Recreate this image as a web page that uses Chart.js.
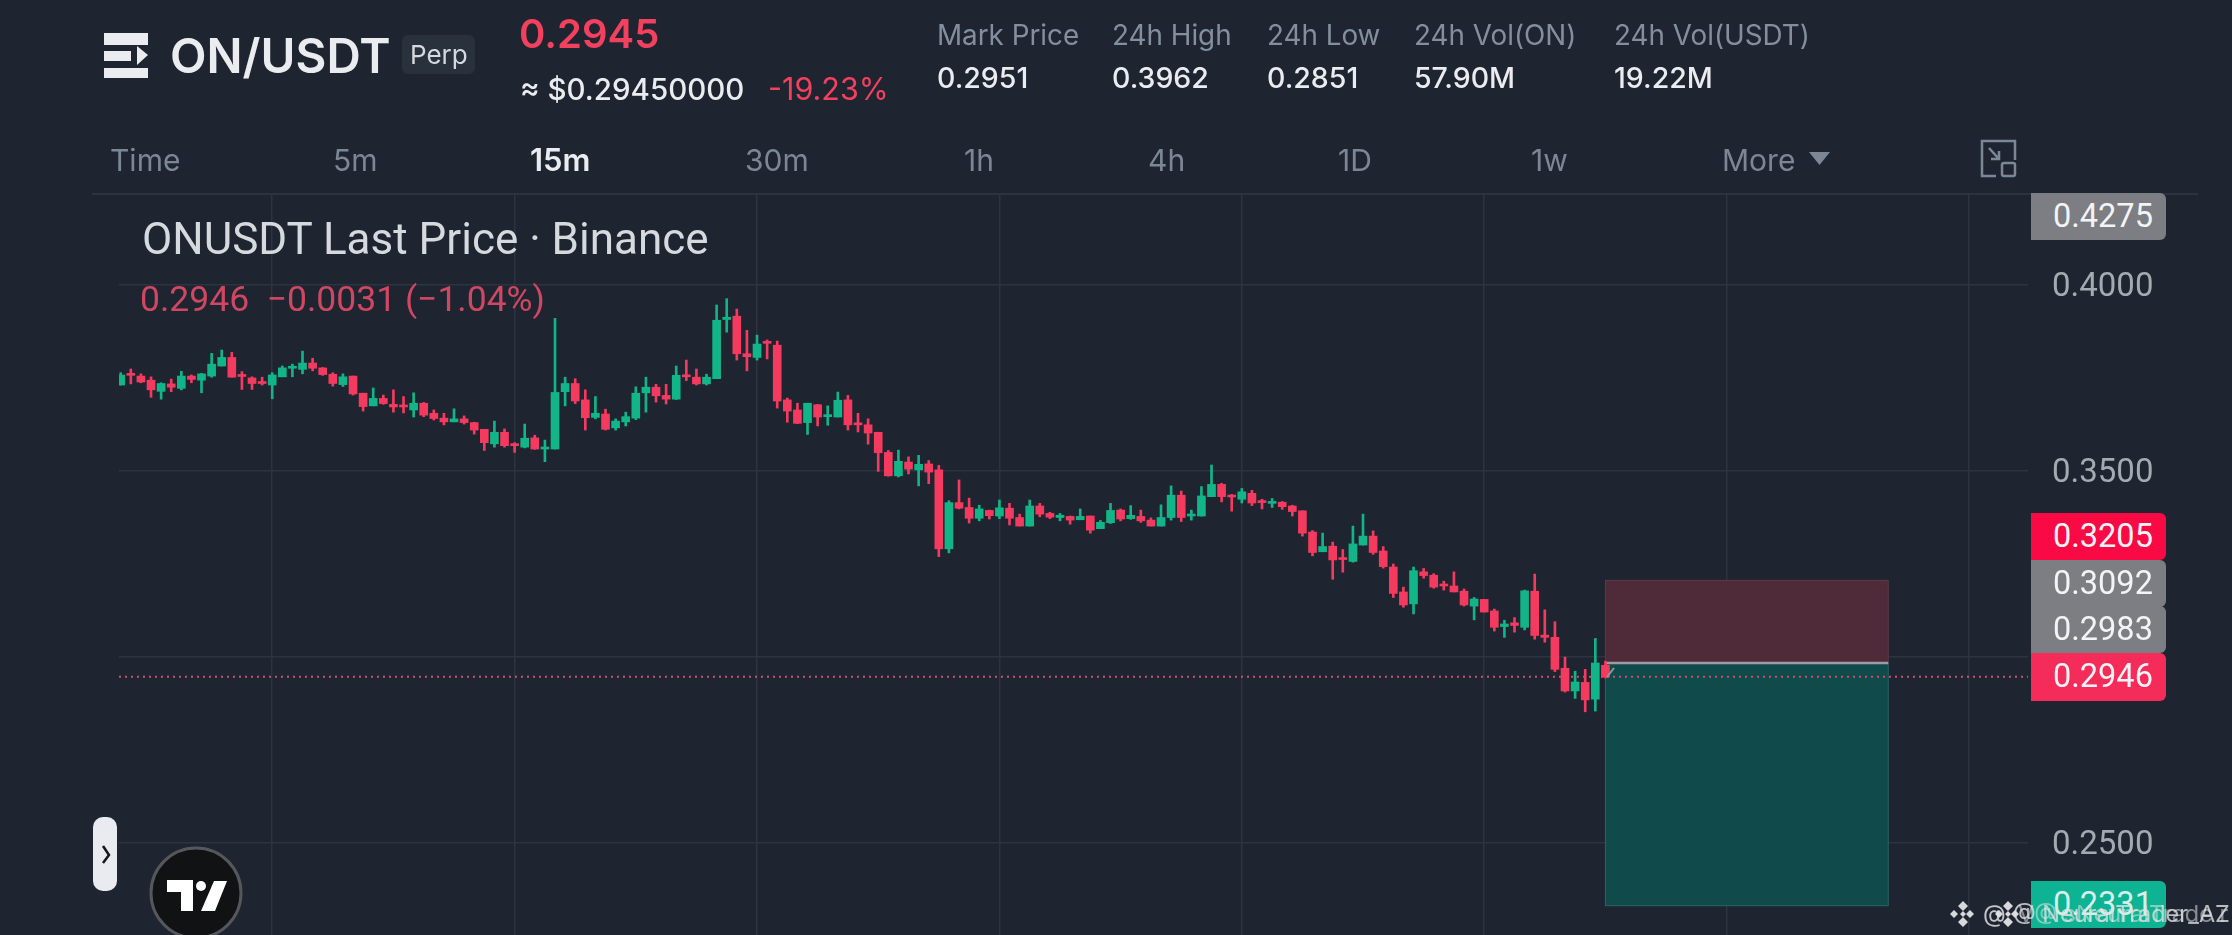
<!DOCTYPE html>
<html>
<head>
<meta charset="utf-8">
<title>ON/USDT</title>
<script src="https://cdn.jsdelivr.net/npm/chart.js@4"></script>
<style>
  html, body { margin: 0; padding: 0; background: #1e2530; width: 2232px; height: 935px; overflow: hidden; }
  #chart { position: absolute; left: 0; top: 0; }
  .t { position: absolute; white-space: nowrap; font-family: Inter, sans-serif; }
  .stat { font-size: 27.8px; line-height: 34px; top: 18px; color: #848e9c; }
  .val { font-size: 28.5px; line-height: 34px; top: 61px; color: #eaecef; font-weight: 500; }
  .tab { font-size: 30px; line-height: 38px; top: 141px; color: #7d8694; }
  .tag { position: absolute; left: 2031px; width: 135px; height: 47px; border-radius: 0 6px 6px 0;
         font: 32.5px/47px Roboto, sans-serif; color: #f4f4f6; text-indent: 22px; }
  .line { position: absolute; background: #2c333e; }
  svg { position: absolute; left: 0; top: 0; }
</style>
</head>
<body>
<canvas id="chart" width="2232" height="935"></canvas>

<div class="line" style="left:92px;top:193px;width:2106px;height:2px"></div>

<div class="t" style="left:170px;top:28px;font-size:47.5px;line-height:56px;font-weight:600;color:#eaecef">ON/USDT</div>
<div style="position:absolute;left:402px;top:35px;width:73px;height:39px;background:#29313d;border-radius:6px"></div>
<div class="t" style="left:410px;top:38px;font-size:26px;line-height:33px;color:#d5d8de">Perp</div>
<div class="t" style="left:519px;top:9px;font-size:40px;line-height:50px;font-weight:600;color:#f2405f">0.2945</div>
<div class="t" style="left:520px;top:70px;font-size:29.5px;line-height:38px;font-weight:500;color:#eaecef">≈ $0.29450000</div>
<div class="t" style="left:768px;top:70px;font-size:30.5px;line-height:38px;color:#f2405f">-19.23%</div>

<div class="t stat" style="left:937px">Mark Price</div>
<div class="t val" style="left:937px">0.2951</div>
<div class="t stat" style="left:1112px">24h High</div>
<div class="t val" style="left:1112px">0.3962</div>
<div class="t stat" style="left:1267px">24h Low</div>
<div class="t val" style="left:1267px">0.2851</div>
<div class="t stat" style="left:1414px">24h Vol(ON)</div>
<div class="t val" style="left:1414px">57.90M</div>
<div class="t stat" style="left:1614px">24h Vol(USDT)</div>
<div class="t val" style="left:1614px">19.22M</div>

<div class="t tab" style="left:110px">Time</div>
<div class="t tab" style="left:333px">5m</div>
<div class="t tab" style="left:530px;color:#eaecef;font-weight:600;font-size:31px">15m</div>
<div class="t tab" style="left:745px">30m</div>
<div class="t tab" style="left:964px">1h</div>
<div class="t tab" style="left:1148px">4h</div>
<div class="t tab" style="left:1338px">1D</div>
<div class="t tab" style="left:1531px">1w</div>
<div class="t tab" style="left:1722px">More</div>

<div class="t" style="left:142px;top:212px;font:44px/54px Roboto,sans-serif;color:#d6d9de">ONUSDT Last Price · Binance</div>
<div class="t" style="left:140px;top:278px;font:35.5px/42px Roboto,sans-serif;color:#cf4763;white-space:pre">0.2946  −0.0031 (−1.04%)</div>

<div class="tag" style="top:193px;background:#7c7e84">0.4275</div>
<div class="tag" style="top:513px;background:#f90a45">0.3205</div>
<div class="tag" style="top:560px;background:#7c7e84">0.3092</div>
<div class="tag" style="top:606px;background:#7c7e84">0.2983</div>
<div class="tag" style="top:653px;height:48px;background:#f52c5a">0.2946</div>
<div class="tag" style="top:881px;background:#0db393;color:#d9efe9">0.2331</div>

<div style="position:absolute;left:93px;top:817px;width:24px;height:74px;background:#e9ebf1;border-radius:10px"></div>

<svg width="2232" height="935" viewBox="0 0 2232 935">
  <!-- menu icon -->
  <rect x="104" y="33" width="44" height="12" fill="#eaecef"/>
  <rect x="104" y="51" width="27" height="10" fill="#eaecef"/>
  <polygon points="137,46 148,55 137,65" fill="#eaecef"/>
  <rect x="104" y="68" width="44" height="10" fill="#eaecef"/>
  <!-- more arrow -->
  <polygon points="1809,152 1830,152 1819.5,165" fill="#7d8694"/>
  <!-- expand icon -->
  <path d="M1996 176 H1982 V141 H2015 V160" fill="none" stroke="#7d8694" stroke-width="2.5"/>
  <rect x="2002" y="163" width="13" height="13" rx="2" fill="none" stroke="#7d8694" stroke-width="2.5"/>
  <path d="M1989 148 L1999 159 M1999 151 V159 H1991" fill="none" stroke="#7d8694" stroke-width="2.5"/>
  <!-- tool handle next to last candle -->
  <path d="M1607 677 L1614 668" fill="none" stroke="#8a9a9a" stroke-width="2"/>
  <!-- slider chevron -->
  <path d="M103 846 L109 855 L103 863" fill="none" stroke="#15171c" stroke-width="2.5"/>
  <!-- tradingview badge -->
  <circle cx="196" cy="893" r="45" fill="#111214" stroke="#55575c" stroke-width="3"/>
  <polygon points="167,880 193,880 193,911 181,911 181,892 167,892" fill="#fff"/>
  <circle cx="201" cy="886" r="5" fill="#fff"/>
  <polygon points="214,881 227,881 215,911 201,911" fill="#fff"/>
  <!-- watermark diamonds -->
  <g fill="#d8d9db">
    <path d="M1958 906 l5 -5 5 5 -5 5z M1950 914 l4 -4 4 4 -4 4z M1966 914 l4 -4 4 4 -4 4z M1958 922 l5 -5 5 5 -5 5z M1960 914 l3 -3 3 3 -3 3z"/>
    <path d="M2003 906 l5 -5 5 5 -5 5z M1995 914 l4 -4 4 4 -4 4z M2011 914 l4 -4 4 4 -4 4z M2003 922 l5 -5 5 5 -5 5z M2005 914 l3 -3 3 3 -3 3z"/>
  </g>
</svg>
<div class="t" style="left:1983px;top:899px;font-size:23.5px;line-height:30px;color:rgba(225,226,228,.85)">@</div>
<div class="t" style="left:2013px;top:899px;font-size:23.5px;line-height:30px;color:rgba(225,226,228,.8)">@ NeuralTrader_AZ</div>
<div class="t" style="left:2018px;top:899px;font-size:23.5px;line-height:30px;color:rgba(225,226,228,.55)">V@ sNeuralTrade r</div>

<script>
// candles, 15m
var opens = [.3730,.3760,.3754,.3743,.3713,.3733,.3721,.3754,.3743,.3754,
  .3781,.3804,.3757,.3749,.3739,.3730,.3752,.3775,.3772,.3789,
  .3776,.3759,.3731,.3754,.3708,.3674,.3694,.3678,.3675,.3663,
  .3681,.3654,.3641,.3631,.3639,.3629,.3611,.3572,.3603,.3571,
  .3563,.3588,.3558,.3558,.3712,.3734,.3690,.3643,.3652,.3615,
  .3631,.3641,.3709,.3724,.3702,.3692,.3756,.3751,.3733,.3747,
  .3906,.3915,.3814,.3804,.3846,.3837,.3690,.3663,.3629,.3677,
  .3645,.3644,.3690,.3628,.3623,.3603,.3549,.3486,.3523,.3502,
  .3518,.3502,.3290,.3414,.3401,.3372,.3393,.3378,.3399,.3374,
  .3351,.3405,.3385,.3374,.3377,.3368,.3378,.3344,.3360,.3394,
  .3371,.3377,.3367,.3351,.3374,.3434,.3378,.3378,.3430,.3463,
  .3434,.3423,.3439,.3418,.3412,.3415,.3405,.3392,.3335,.3282,
  .3297,.3264,.3256,.3300,.3324,.3284,.3241,.3174,.3142,.3228,
  .3219,.3194,.3190,.3176,.3136,.3154,.3123,.3081,.3091,.3079,
  .3176,.3058,.3052,.2969,.2908,.2931,.2886,.2977];
var closes = [.3757,.3756,.3738,.3717,.3734,.3724,.3754,.3745,.3760,.3786,
  .3804,.3751,.3753,.3734,.3734,.3757,.3776,.3778,.3789,.3775,
  .3758,.3734,.3752,.3706,.3672,.3694,.3680,.3671,.3671,.3681,
  .3649,.3640,.3631,.3639,.3629,.3609,.3575,.3603,.3567,.3567,
  .3587,.3558,.3562,.3710,.3734,.3687,.3642,.3654,.3611,.3633,
  .3645,.3708,.3724,.3701,.3692,.3756,.3752,.3733,.3751,.3904,
  .3912,.3814,.3806,.3840,.3842,.3687,.3660,.3627,.3681,.3644,
  .3649,.3689,.3623,.3623,.3601,.3548,.3486,.3525,.3504,.3517,
  .3496,.3290,.3414,.3399,.3372,.3397,.3379,.3400,.3372,.3351,
  .3405,.3383,.3375,.3380,.3367,.3377,.3340,.3361,.3393,.3370,
  .3380,.3365,.3351,.3374,.3434,.3374,.3382,.3432,.3463,.3430,
  .3429,.3443,.3413,.3414,.3417,.3403,.3390,.3332,.3280,.3296,
  .3260,.3261,.3303,.3324,.3280,.3242,.3170,.3139,.3231,.3218,
  .3187,.3190,.3174,.3139,.3155,.3120,.3079,.3088,.3084,.3177,
  .3057,.3052,.2966,.2908,.2932,.2884,.2983,.2945];
var highs = [.3763,.3773,.3760,.3752,.3736,.3746,.3767,.3757,.3761,.3815,
  .3824,.3818,.3766,.3752,.3751,.3763,.3781,.3786,.3821,.3802,
  .3777,.3763,.3760,.3754,.3708,.3722,.3703,.3717,.3699,.3709,
  .3683,.3663,.3654,.3666,.3647,.3630,.3611,.3633,.3612,.3575,
  .3625,.3595,.3582,.3909,.3751,.3747,.3717,.3699,.3665,.3639,
  .3657,.3725,.3751,.3732,.3732,.3781,.3797,.3773,.3759,.3945,
  .3962,.3934,.3877,.3864,.3851,.3848,.3695,.3681,.3681,.3678,
  .3674,.3711,.3702,.3654,.3639,.3603,.3554,.3555,.3537,.3541,
  .3527,.3514,.3419,.3475,.3426,.3407,.3394,.3421,.3412,.3383,
  .3421,.3412,.3388,.3385,.3378,.3397,.3378,.3366,.3412,.3397,
  .3406,.3394,.3373,.3408,.3459,.3445,.3394,.3457,.3515,.3466,
  .3436,.3452,.3447,.3423,.3425,.3417,.3407,.3392,.3339,.3332,
  .3308,.3288,.3351,.3383,.3338,.3296,.3249,.3187,.3241,.3237,
  .3223,.3203,.3228,.3182,.3159,.3154,.3128,.3098,.3105,.3179,
  .3222,.3126,.3094,.2999,.2961,.2966,.3049,.2988];
var lows = [.3730,.3733,.3736,.3697,.3692,.3712,.3717,.3736,.3709,.3751,
  .3781,.3751,.3718,.3718,.3730,.3693,.3752,.3752,.3760,.3768,
  .3756,.3727,.3726,.3703,.3660,.3674,.3678,.3657,.3655,.3644,
  .3645,.3636,.3623,.3631,.3625,.3598,.3554,.3563,.3563,.3549,
  .3561,.3557,.3524,.3558,.3674,.3680,.3609,.3639,.3609,.3609,
  .3620,.3637,.3657,.3684,.3679,.3691,.3742,.3730,.3730,.3747,
  .3872,.3797,.3768,.3797,.3800,.3668,.3630,.3626,.3597,.3620,
  .3622,.3644,.3609,.3604,.3571,.3498,.3485,.3483,.3491,.3459,
  .3465,.3269,.3279,.3397,.3359,.3365,.3370,.3371,.3354,.3351,
  .3351,.3376,.3371,.3365,.3356,.3368,.3332,.3344,.3358,.3365,
  .3369,.3361,.3351,.3351,.3367,.3363,.3367,.3378,.3430,.3416,
  .3391,.3413,.3406,.3397,.3401,.3396,.3378,.3324,.3271,.3282,
  .3208,.3227,.3254,.3300,.3275,.3238,.3159,.3133,.3115,.3211,
  .3184,.3179,.3174,.3136,.3099,.3120,.3069,.3052,.3066,.3072,
  .3047,.3039,.2960,.2905,.2888,.2852,.2854,.2943];

var priceTicks = [0.25, 0.30, 0.35, 0.40];
var gridCandles = [15, 39, 63, 87, 111, 135, 159, 183];

// long position tool
var entryPrice = 0.2983;
var stopPrice = 0.3205;
var targetPrice = 0.2331;
var toolFrom = 147;
var toolTo = 175;
var lastPrice = 0.2946;

var upColor = "#12b587";
var downColor = "#f43a5f";

var xMin = -0.17;
var xMax = 188.84;

var bodies = [], wicks = [], bodyColors = [];
opens.forEach(function (o, i) {
    bodies.push({ x: i, y: [o, closes[i]] });
    wicks.push({ x: i, y: [lows[i], highs[i]] });
    bodyColors.push(closes[i] >= o ? upColor : downColor);
});

var positionTool = {
    id: "positionTool",
    beforeDatasetsDraw: function (chart) {
        var c = chart.ctx, x = chart.scales.x, y = chart.scales.y;
        var left = x.getPixelForValue(toolFrom), right = x.getPixelForValue(toolTo);
        var stop = y.getPixelForValue(stopPrice), entry = y.getPixelForValue(entryPrice), target = y.getPixelForValue(targetPrice);
        c.save();
        c.lineWidth = 1;
        c.fillStyle = "#4f2a38";
        c.strokeStyle = "#5d3a46";
        c.fillRect(left, stop, right - left, entry - stop);
        c.strokeRect(left, stop, right - left, entry - stop);
        c.fillStyle = "#104a4b";
        c.strokeStyle = "#2a6766";
        c.fillRect(left, entry, right - left, target - entry);
        c.strokeRect(left, entry, right - left, target - entry);
        c.strokeStyle = "#9a9ea2";
        c.lineWidth = 2.5;
        c.beginPath();
        c.moveTo(left, entry);
        c.lineTo(right, entry);
        c.stroke();
        c.restore();
    }
};

var chart = new Chart(document.getElementById("chart"), {
    type: "bar",
    data: {
        datasets: [
            { label: "body", data: bodies, backgroundColor: bodyColors, barThickness: 8, minBarLength: 2, grouped: false, order: 0 },
            { label: "wick", data: wicks, backgroundColor: bodyColors, barThickness: 2, grouped: false, order: 1 },
            {
                type: "line", label: "last", order: 2,
                data: [{ x: xMin, y: lastPrice }, { x: xMax, y: lastPrice }],
                borderColor: "#c9506a", borderWidth: 2, borderDash: [2, 4], pointRadius: 0
            }
        ]
    },
    options: {
        responsive: false,
        animation: false,
        devicePixelRatio: 1,
        layout: { padding: { left: 119, top: 195, right: 0, bottom: 0 } },
        plugins: { legend: { display: false }, tooltip: { enabled: false } },
        scales: {
            x: {
                type: "linear", min: xMin, max: xMax, offset: false,
                grid: { color: "#2d343f", lineWidth: 1.5, offset: false, drawTicks: false },
                border: { display: false },
                ticks: { display: false },
                afterBuildTicks: function (s) { s.ticks = gridCandles.map(function (v) { return { value: v }; }); },
                afterFit: function (s) { s.height = 0; }
            },
            y: {
                position: "right", min: 0.22523, max: 0.42405, beginAtZero: false,
                grid: { color: "#2d343f", lineWidth: 1.5, drawTicks: false },
                border: { display: false },
                ticks: {
                    padding: 24, color: "#a5a9b0", autoSkip: false,
                    // empty first line + 6px line height nudges the label 3px down
                    font: { family: "Roboto", size: 33, lineHeight: "6px" },
                    callback: function (v) { return ["", v.toFixed(4)]; }
                },
                afterBuildTicks: function (s) { s.ticks = priceTicks.map(function (v) { return { value: v }; }); },
                afterFit: function (s) { s.width = 204; s.paddingTop = 0; s.paddingBottom = 0; }
            }
        }
    },
    plugins: [positionTool]
});
</script>
</body>
</html>
